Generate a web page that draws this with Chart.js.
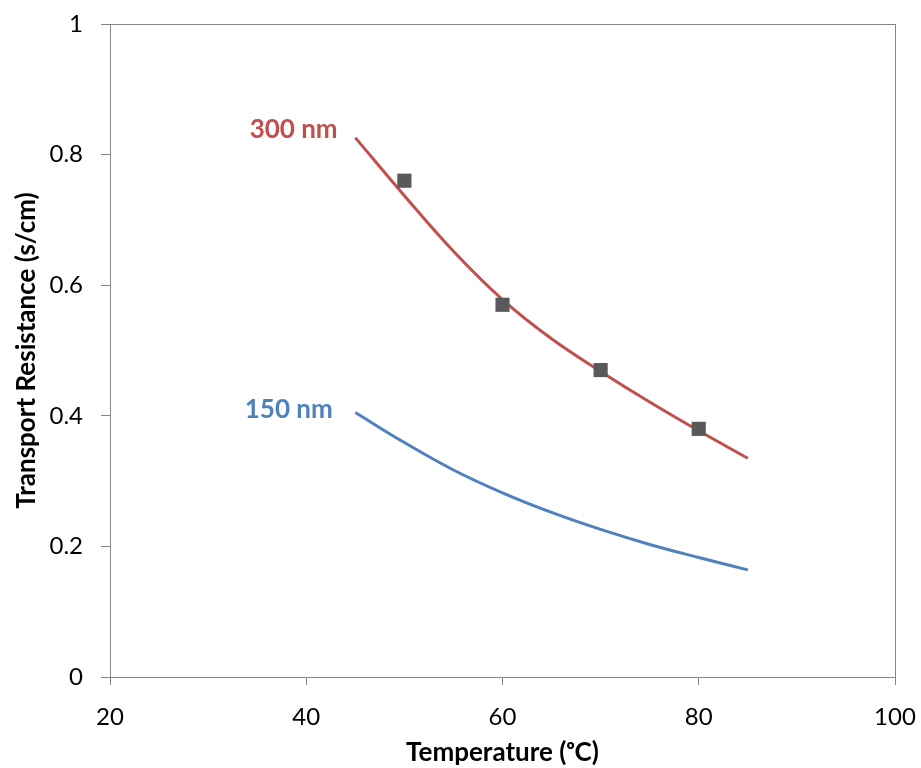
<!DOCTYPE html>
<html>
<head>
<meta charset="utf-8">
<script src="https://cdn.jsdelivr.net/npm/chart.js@4.4.1/dist/chart.umd.min.js"></script>
<style>
  html, body { margin: 0; padding: 0; background: #fff; }
  #wrap { width: 921px; height: 768px; }
</style>
</head>
<body>
<div id="wrap"><canvas id="c" width="921" height="768"></canvas></div>
<script>
// ---- data ----
const curveTemps = [45, 50, 55, 60, 65, 70, 75, 80, 85];
const fit300 = [0.826, 0.737, 0.652, 0.578, 0.518, 0.468, 0.421, 0.377, 0.335];
const fit150 = [0.405, 0.359, 0.317, 0.282, 0.252, 0.226, 0.203, 0.183, 0.164];
const measTemps = [50, 60, 70, 80];
const meas300 = [0.76, 0.57, 0.47, 0.38];
const seriesNames = ['300 nm', '150 nm'];

const xMin = 20, xMax = 100, xStep = 20;
const yMin = 0, yMax = 1, yStep = 0.2;

// ---- styling / placement ----
const FONT = 'Lato, "Open Sans", "Noto Sans", sans-serif';
const RED = '#C0504D', BLUE = '#4F81BD', MARK = '#595959', AXIS = '#868686';
const labelAnchors = [ {x: 43.2, y: 0.838, color: RED}, {x: 42.7, y: 0.41, color: BLUE} ];

const toPts = (xs, ys) => xs.map((x, i) => ({x: x, y: ys[i]}));

const frame = {
  id: 'frame',
  afterDraw(chart) {
    const {ctx, chartArea: a, scales} = chart;
    ctx.save();
    ctx.strokeStyle = AXIS;
    ctx.lineWidth = 1;
    ctx.strokeRect(Math.round(a.left) + 0.5, Math.round(a.top) + 0.5,
                   Math.round(a.right - a.left), Math.round(a.bottom - a.top));
    ctx.font = 'bold 26px ' + FONT;
    ctx.textAlign = 'right';
    ctx.textBaseline = 'middle';
    seriesNames.forEach((n, i) => {
      const p = labelAnchors[i];
      ctx.fillStyle = p.color;
      ctx.fillText(n, scales.x.getPixelForValue(p.x), scales.y.getPixelForValue(p.y));
    });
    ctx.restore();
  }
};

new Chart(document.getElementById('c'), {
  type: 'scatter',
  data: {
    datasets: [
      { data: toPts(curveTemps, fit300), showLine: true, borderColor: RED, borderWidth: 3,
        pointRadius: 0, tension: 0.4, order: 2 },
      { data: toPts(curveTemps, fit150), showLine: true, borderColor: BLUE, borderWidth: 3,
        pointRadius: 0, tension: 0.4, order: 2 },
      { data: toPts(measTemps, meas300), showLine: false, pointStyle: 'rect', pointRadius: 10,
        pointBackgroundColor: MARK, pointBorderWidth: 0, order: 1 }
    ]
  },
  options: {
    responsive: false,
    animation: false,
    layout: { padding: { top: 24, right: 26, left: 0, bottom: 0 } },
    plugins: { legend: { display: false }, tooltip: { enabled: false } },
    scales: {
      x: {
        type: 'linear', min: xMin, max: xMax,
        afterFit(s) { s.height = 91; },
        ticks: { stepSize: xStep, color: '#000', padding: 2,
                 font: { family: FONT, size: 24, lineHeight: 2.5 } },
        grid: { drawOnChartArea: false, drawTicks: true, tickLength: 8, color: AXIS },
        border: { color: AXIS, width: 1 },
        title: { display: true, text: 'Temperature (ᵒC)', color: '#000',
                 font: { family: FONT, size: 26, weight: 'bold' }, padding: { top: 0, bottom: 0 } }
      },
      y: {
        type: 'linear', min: yMin, max: yMax,
        afterFit(s) { s.width = 110; },
        ticks: { stepSize: yStep, color: '#000', padding: 18,
                 font: { family: FONT, size: 24, lineHeight: 0.5 },
                 callback: v => String(+v.toFixed(1)) },
        grid: { drawOnChartArea: false, drawTicks: true, tickLength: 9, color: AXIS },
        border: { color: AXIS, width: 1 },
        title: { display: true, text: 'Transport Resistance (s/cm)', color: '#000',
                 font: { family: FONT, size: 26, weight: 'bold' }, padding: { top: 11, bottom: 0 } }
      }
    }
  },
  plugins: [frame]
});
</script>
</body>
</html>
